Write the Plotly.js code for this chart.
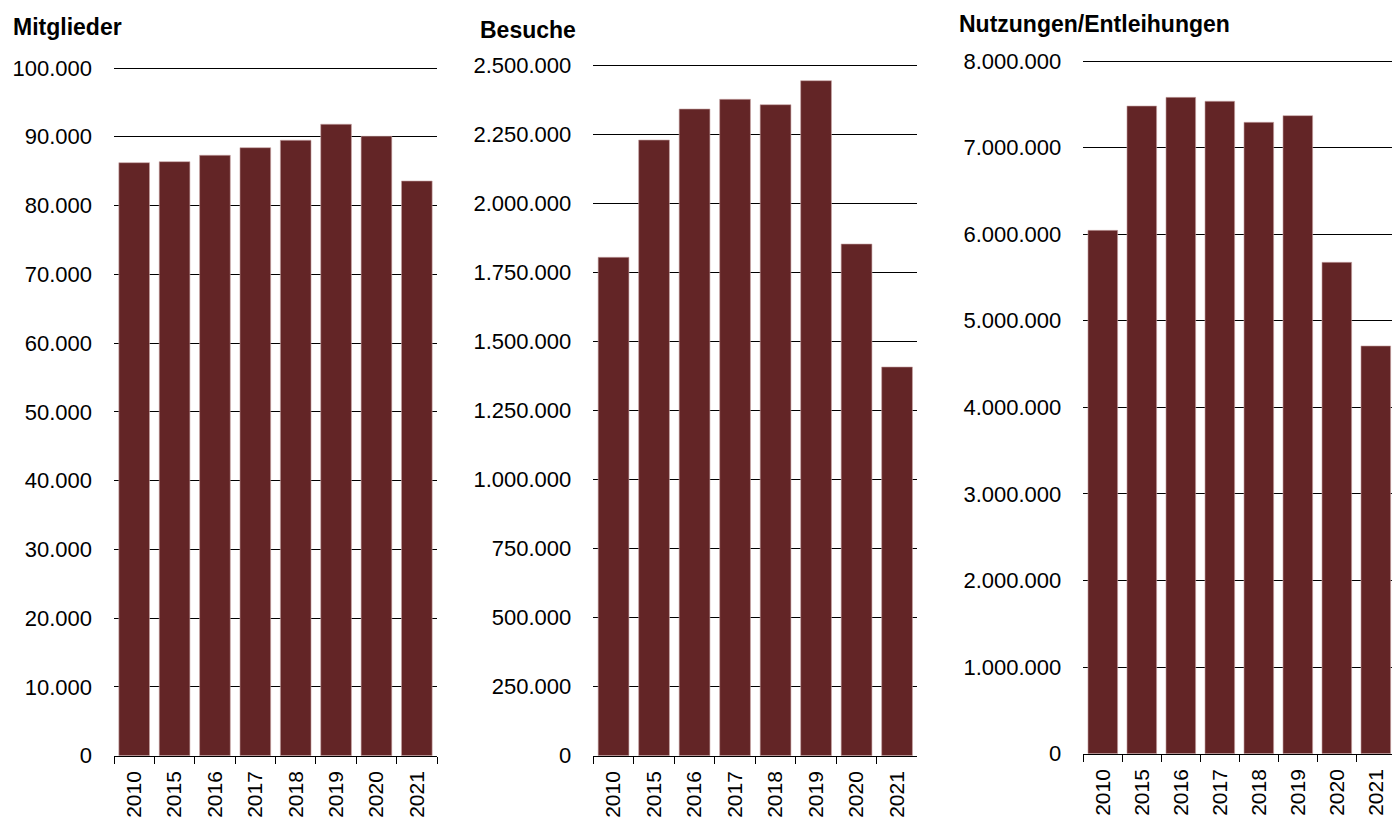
<!DOCTYPE html>
<html>
<head>
<meta charset="utf-8">
<script src="https://cdn.plot.ly/plotly-3.0.1.min.js"></script>
<style>
html,body{margin:0;padding:0;background:#fff;}
#chart{width:1392px;height:820px;}
</style>
</head>
<body>
<div id="chart"></div>
<script>
// Data
const years = ["2010", "2015", "2016", "2017", "2018", "2019", "2020", "2021"];
const mitglieder = [86230, 86380, 87310, 88410, 89490, 91820, 90070, 83570];
const besuche = [1804000, 2228500, 2340700, 2375800, 2356300, 2443200, 1852000, 1407000];
const nutzungen = [6044000, 7480000, 7580000, 7535000, 7292000, 7369000, 5675000, 4709000];

const titles = ["Mitglieder", "Besuche", "Nutzungen/Entleihungen"];
const tick1 = [0, 10000, 20000, 30000, 40000, 50000, 60000, 70000, 80000, 90000, 100000];
const tick2 = [0, 250000, 500000, 750000, 1000000, 1250000, 1500000, 1750000, 2000000, 2250000, 2500000];
const tick3 = [0, 1000000, 2000000, 3000000, 4000000, 5000000, 6000000, 7000000, 8000000];

function fmt(v) {
  return String(v).replace(/\B(?=(\d{3})+(?!\d))/g, ".");
}

const W = 1392, H = 820;
const barColor = "#632526";
const FONT = "Liberation Sans, Arial, sans-serif";

function bar(y, xa, ya) {
  return {
    type: "bar", x: years, y: y, xaxis: xa, yaxis: ya,
    marker: {color: barColor, line: {color: "#c8a4a4", width: 0.6}},
    hoverinfo: "x+y"
  };
}

const data = [
  bar(mitglieder, "x", "y"),
  bar(besuche, "x2", "y2"),
  bar(nutzungen, "x3", "y3")
];

function xax(l, r, anchor, range) {
  return {
    domain: [l / W, r / W], anchor: anchor, type: "category",
    range: range, showline: true, linecolor: "#000", linewidth: 1,
    ticks: "outside", tickson: "boundaries", ticklen: 7, tickcolor: "#000", tickwidth: 1,
    tickangle: -90, showgrid: false, zeroline: false,
    tickfont: {family: FONT, size: 21, color: "#000"},
    ticklabelstandoff: 6, fixedrange: true
  };
}
// small headroom so the top gridline (at the last tick) is drawn
const PAD = 3;
function yax(top, bottom, anchor, vals, max) {
  const h = bottom - top;
  return {
    domain: [1 - bottom / H, 1 - (top - PAD) / H], anchor: anchor,
    range: [0, max * (h + PAD) / h], tickvals: vals, ticktext: vals.map(fmt),
    showgrid: true, gridcolor: "#000", gridwidth: 1,
    zeroline: false, showline: false, ticks: "",
    tickfont: {family: FONT, size: 22, color: "#000"},
    ticklabelstandoff: 21, fixedrange: true
  };
}

const layout = {
  width: W, height: H,
  margin: {l: 0, r: 0, t: 0, b: 0},
  paper_bgcolor: "#fff", plot_bgcolor: "#fff",
  showlegend: false, bargap: 0.24,
  xaxis: xax(114, 437, "y", [-0.5, 7.5]),
  yaxis: yax(68, 755.7, "x", tick1, 100000),
  xaxis2: xax(593.3, 917.3, "y2", [-0.5, 7.5]),
  yaxis2: yax(65, 755.7, "x2", tick2, 2500000),
  xaxis3: xax(1083.3, 1392, "y3", [-0.5, 7.415]),
  yaxis3: yax(61, 753.7, "x3", tick3, 8000000),
  annotations: [
    {text: titles[0], x: 11 / W, y: 1 - 27 / H, xref: "paper", yref: "paper", xanchor: "left", yanchor: "middle", showarrow: false, font: {family: FONT, size: 23, color: "#000", weight: "bold"}},
    {text: titles[1], x: 478 / W, y: 1 - 29.5 / H, xref: "paper", yref: "paper", xanchor: "left", yanchor: "middle", showarrow: false, font: {family: FONT, size: 23, color: "#000", weight: "bold"}},
    {text: titles[2], x: 957 / W, y: 1 - 24 / H, xref: "paper", yref: "paper", xanchor: "left", yanchor: "middle", showarrow: false, font: {family: FONT, size: 23, color: "#000", weight: "bold"}}
  ]
};

Plotly.newPlot("chart", data, layout, {displayModeBar: false, staticPlot: true});
</script>
</body>
</html>
